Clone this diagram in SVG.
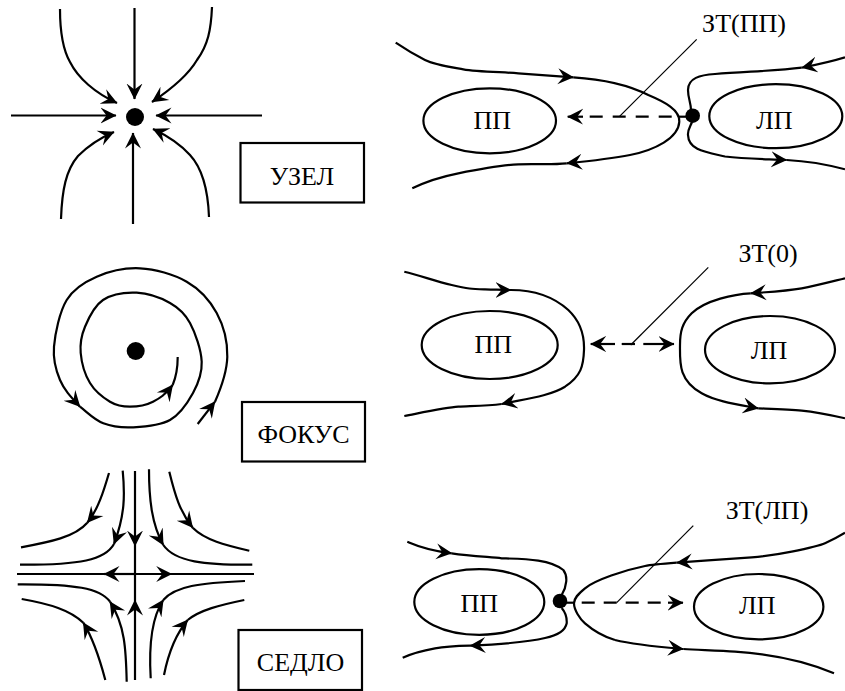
<svg xmlns="http://www.w3.org/2000/svg" width="845" height="691" viewBox="0 0 845 691">
<style>
text{font-family:"Liberation Serif","Times New Roman",serif;font-size:26px;fill:#000;text-anchor:middle}
path,ellipse,rect{fill:none;stroke:#000;stroke-width:2.2}
.a{marker-end:url(#h)}
.thin{stroke-width:1.2}
.d{stroke-dasharray:13 10}
.dot{fill:#000;stroke:none}
</style>
<defs>
<marker id="h" markerUnits="userSpaceOnUse" markerWidth="18" markerHeight="18" viewBox="0 0 18 18" refX="15.5" refY="9" orient="auto"><polygon points="16,9 0,1 6,9 0,17" fill="#000"/></marker>
</defs>
<rect width="845" height="691" style="fill:#fff;stroke:none"/>

<g id="connectors">
<g id="uzel-lines">
<path class="a" d="M134.5,8V99"/>
<path class="a" d="M11,115.5H116"/>
<path class="a" d="M262,115.5H156"/>
<path class="a" d="M133,224V133"/>
<path class="a" d="M60,9C60,30 62,48 70,62C78,78 95,93 117,103"/>
<path class="a" d="M212,7C211,30 208,45 197,60C187,77 170,90 152,102"/>
<path class="a" d="M61,219C62,190 66,170 78,156C88,146 100,138 114,132"/>
<path class="a" d="M209,217C208,190 202,168 190,155C180,144 168,136 153,129"/>
</g>
<g id="fokus-lines">
<path class="a" d="M197.7,424L215,401.7"/>
<path class="a" d="M215,401.7C221,388 227,371 227.3,356.7S223.5,325.5 216.7,313S199.5,289 186.7,281.7S155,269 140,268.3S109,271.4 96.7,276.7S73.8,288.3 66.7,300S55.1,333.4 54,346.7S55.7,370 60,380S70,396 80,406.7"/>
<path class="a" d="M80,406.7C88,413 94.4,419.9 103.3,423.3S122.2,427.9 133.3,427.3S160,425.7 170,420S187.7,402.7 193,393S202.2,373.4 201.7,361.7S195.3,332.8 190,323S178.9,308 170,303S147.9,293.2 136.7,292.7S111.6,294.3 103,300S88.7,317.9 85,326.7S79.9,343.6 80.7,353S85.1,374.9 90,383S103.3,397.7 110,401.7S122.8,406.7 130,406.7S145.9,405.3 153,401.7S165,395 172.7,385"/>
<path d="M172.7,385C176,377 177.7,368 177.7,357"/>
</g>
<g id="sedlo-lines">
<path class="a" d="M135,471V546"/>
<path class="a" d="M135,680V600"/>
<path d="M135,546V600M17,574H254"/>
<path class="a" d="M135,574H104"/>
<path class="a" d="M135,574H171.7"/>
<path class="a" d="M109,473C104,490 98,510 87.3,522.7"/>
<path d="M87.3,522.7C75,537 50,542 21,547.3"/>
<path class="a" d="M122.7,470.7C125,495 125,515 114,544"/>
<path d="M114,544C105,560 80,565 20,564.7"/>
<path class="a" d="M149,469.3C149,500 152,525 163.3,545"/>
<path d="M163.3,545C175,562 205,565 252.3,564.7"/>
<path class="a" d="M169.3,471.7C175,495 180,512 192.7,527.7"/>
<path d="M192.7,527.7C205,540 225,545 249.3,550.7"/>
<path class="a" d="M126.7,681.7C126,650 125,625 110,601.7"/>
<path d="M110,601.7C100,588 75,584 17.7,584.3"/>
<path class="a" d="M105.3,680C100,660 94,640 83.3,622.7"/>
<path d="M83.3,622.7C70,610 50,604 21.7,599"/>
<path class="a" d="M150.7,678.3C149,650 150,620 163.3,600"/>
<path d="M163.3,600C175,586 200,583 245,581"/>
<path class="a" d="M164,675C168,655 175,635 187.7,620"/>
<path d="M187.7,620C200,610 220,605 244.3,600"/>
</g>
<g id="panel1-lines">
<path class="a" d="M395.7,42.7C405,49 415,55 425,60S450,67 463.3,69.3S500,72 518.3,73.3S555,76 573.3,77.3"/>
<path class="a" d="M573.3,77.3C600,79 625,83 648.3,95C665,102 680,110 679.3,121.7C678.5,138 655,150 630,155C610,159 590,161 566.7,163.3"/>
<path d="M566.7,163.3C550,165 535,163.5 518.3,164.3S480,169 458.3,173.3S425,182 412.3,188.3"/>
<path class="a" d="M845,57.3C830,62 815,65 801.7,67.7"/>
<path d="M801.7,67.7C775,71 745,71.5 715,74C700,75 688,78 688,90C688,98 691,103 691,110"/>
<path class="a" d="M692,122C690,127 687.5,130 688,135C688.5,150 705,152 725,156.5C745,159 765,159 786.7,160"/>
<path d="M786.7,160C805,161 825,164 845,169.3"/>
<path d="M678,116.7H692"/>
<path class="d" d="M671.7,116.7H585"/>
<path class="a" d="M583,116.7H567.7"/>
<path class="thin" d="M696.7,39.3L619.3,116.7"/>
</g>
<g id="panel2-lines">
<path class="a" d="M404.3,271.7C420,275.5 435,281 451.7,285S472,289 485,289.3S500,290 511,290"/>
<path class="a" d="M511,290C535,290 555,298 568.3,310C580,321 584.5,335 584,350C583.5,366 581,376 565,386.7C550,396 525,399 501.7,404"/>
<path d="M501.7,404C487,406 470,406 458.3,406.7S425,412 404.3,416"/>
<path class="a" d="M845,278.3C830,282 815,286 801.7,288.3S770,292 750.7,293.3"/>
<path class="a" d="M750.7,293.3C735,294 705,300 691.7,313.3C682,323 680,332 680,345C680,362 678,380 701.7,393.3C715,401 735,404 758.3,408.3"/>
<path d="M758.3,408.3C775,409 790,409.5 801.7,410.7S830,415 845,418.3"/>
<path class="a" d="M615,344H590.7"/>
<path d="M621.7,344H635"/>
<path class="a" d="M643.3,344H674"/>
<path class="thin" d="M708.3,267.3L630.7,345"/>
</g>
<g id="panel3-lines">
<path class="a" d="M407.3,541.7C415,545 425,550 451.7,553.3"/>
<path d="M451.7,553.3C470,556 490,557 501.7,558.3C525,559 550,559 563.3,570C568,576 567,586 561.7,595"/>
<path class="a" d="M561.7,608C566,613 567,618 566.7,623.3C565,632 555,636 545,638C525,643 495,644.5 470,645.7"/>
<path d="M470,645.7C455,646 445,646.5 435,648.3S415,652 402.7,657.7"/>
<path class="a" d="M845,532.7C838,537 830,541 825,543.3S805,549 791.7,551.7S770,556 751.7,557.3S700,561 676.7,562.7"/>
<path d="M676.7,562.7C660,564 650,565 645,566C625,570 595,580 585,588.3C578,594 574,598 574,603.3C574,610 580,619 585,623.3C595,632 605,637 615,640"/>
<path class="a" d="M615,640C635,645 660,647 683.3,649"/>
<path d="M683.3,649C700,650 720,650.5 735,651.7C770,654 805,661 834,673.3"/>
<path d="M560,602.7H574"/>
<path class="d" style="stroke-dasharray:13 9" d="M581.7,602.7H668"/>
<path class="a" d="M668,602.7H683"/>
<path class="thin" d="M693.3,525.7L616.7,602.7"/>
</g>
</g>

<g id="node-uzel"><circle class="dot" cx="135" cy="117" r="9"/></g>
<g id="box-uzel"><rect x="240.5" y="143" width="123.5" height="59.5"/><text x="302" y="185">УЗЕЛ</text></g>
<g id="node-fokus"><circle class="dot" cx="135.7" cy="351" r="9"/></g>
<g id="box-fokus"><rect x="242" y="402" width="123" height="59.5"/><text x="303.5" y="443">ФОКУС</text></g>
<g id="box-sedlo"><rect x="238.5" y="630" width="123.5" height="60"/><text x="300.5" y="671">СЕДЛО</text></g>

<g id="panel1-pp"><ellipse cx="489.7" cy="120.8" rx="66.3" ry="32.5"/><text x="492.3" y="129">ПП</text></g>
<g id="panel1-lp"><ellipse cx="775.8" cy="116.2" rx="66.5" ry="32"/><text x="774.3" y="129">ЛП</text></g>
<g id="panel1-dot"><circle class="dot" cx="692.7" cy="115.7" r="7.3"/></g>
<g id="panel1-label"><text x="744" y="32">ЗТ(ПП)</text></g>

<g id="panel2-pp"><ellipse cx="489.7" cy="345" rx="68" ry="34"/><text x="493.3" y="353">ПП</text></g>
<g id="panel2-lp"><ellipse cx="770" cy="349.7" rx="65" ry="33.7"/><text x="769" y="359">ЛП</text></g>
<g id="panel2-label"><text x="768" y="261.5">ЗТ(0)</text></g>

<g id="panel3-pp"><ellipse cx="479.3" cy="602" rx="65" ry="32.8"/><text x="479.3" y="612">ПП</text></g>
<g id="panel3-lp"><ellipse cx="758.7" cy="606.7" rx="64.7" ry="32.7"/><text x="757.3" y="614">ЛП</text></g>
<g id="panel3-dot"><circle class="dot" cx="560" cy="601" r="7.3"/></g>
<g id="panel3-label"><text x="767" y="519">ЗТ(ЛП)</text></g>
</svg>
